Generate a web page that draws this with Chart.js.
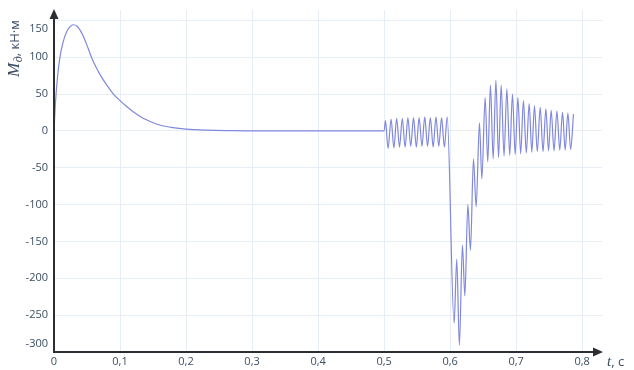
<!DOCTYPE html>
<html>
<head>
<meta charset="utf-8">
<script src="https://cdn.jsdelivr.net/npm/chart.js@4.4.1/dist/chart.umd.min.js"></script>
<style>
  html, body { margin: 0; background: #fff; }
  #wrap { width: 634px; height: 370px; }
</style>
</head>
<body>
<div id="wrap"><canvas id="graf"></canvas></div>
<script>
// === DONNEES ===
// temps, s
const temps = [
  0, 0.002, 0.005, 0.009, 0.014, 0.019, 0.024, 0.029, 0.035, 0.04, 0.045, 0.05,
  0.055, 0.06, 0.07, 0.08, 0.09, 0.1, 0.11, 0.12, 0.13, 0.14, 0.15, 0.16, 0.18,
  0.2, 0.23, 0.27, 0.3, 0.5,
  // oscillations 0,5 - 0,6
  0.502, 0.506, 0.5105, 0.5148, 0.519, 0.5233, 0.5275, 0.5318, 0.536, 0.5403,
  0.5445, 0.5488, 0.553, 0.5573, 0.5615, 0.5658, 0.57, 0.5743, 0.5785, 0.5828,
  0.587, 0.5913, 0.5955,
  // creux profond
  0.606, 0.61, 0.614, 0.6186, 0.6223, 0.6268, 0.6308, 0.6353, 0.6394, 0.6444,
  0.648, 0.653,
  // oscillations amorties
  0.657, 0.661, 0.6652, 0.6693, 0.6733, 0.6773, 0.6816, 0.6859, 0.6902, 0.6944,
  0.6985, 0.7026, 0.7068, 0.711, 0.7153, 0.7197, 0.7237, 0.7277, 0.732, 0.7364,
  0.7407, 0.745, 0.749, 0.753, 0.7573, 0.7617, 0.766, 0.7702, 0.7742, 0.7783,
  0.7825, 0.7868
];
// moment, kN·m
const moment = [
  0, 35, 70, 100, 121, 134, 141, 144, 142, 136, 127, 116,
  104, 93, 76, 62, 50, 41, 33, 26, 20, 15, 11, 8, 4.5,
  2.4, 1, 0.3, 0, 0,
  14, -24, 16, -23, 17, -22, 17, -22, 18, -21,
  18, -22, 18, -21, 19, -21, 18, -22, 19, -21,
  18, -22, 19,
  -261, -174, -291, -155, -224, -100, -162, -38, -103, 11,
  -65, 45,
  -42, 62, -38, 69, -36, 62, -34, 57, -33, 50,
  -32, 45, -31, 41, -30, 37, -29, 34, -28, 32,
  -28, 30, -27, 28, -27, 27, -26, 25, -26, 24,
  -25, 23
];
const ticksX = [0, 0.1, 0.2, 0.3, 0.4, 0.5, 0.6, 0.7, 0.8];
const ticksY = [-300, -250, -200, -150, -100, -50, 0, 50, 100, 150];

const couleurTexte = "#3c4e62";
const couleurAxe = "#2b2f33";
const couleurGrille = "#e6edf4";

// === AXES AVEC FLECHES + LIBELLES ===
const axesFleches = {
  id: "axesFleches",
  afterDraw(chart) {
    const { ctx, chartArea: a, scales } = chart;
    ctx.save();
    // libelles Y
    ctx.fillStyle = couleurTexte;
    ctx.font = "11px 'Open Sans'";
    ctx.textAlign = "right";
    ctx.textBaseline = "middle";
    ticksY.forEach(v => {
      let y = scales.y.getPixelForValue(v);
      y = Math.min(Math.max(y, a.top + 19), a.bottom - 8);
      ctx.fillText(String(v), a.left - 6, y);
    });

    // axes
    ctx.strokeStyle = couleurAxe;
    ctx.fillStyle = couleurAxe;
    ctx.lineWidth = 2;
    ctx.beginPath();
    ctx.moveTo(a.left, a.bottom);
    ctx.lineTo(a.left, a.top + 6);
    ctx.moveTo(a.left - 1, a.bottom);
    ctx.lineTo(a.right - 6, a.bottom);
    ctx.stroke();
    ctx.beginPath();
    ctx.moveTo(a.left, a.top - 1);
    ctx.lineTo(a.left - 4.5, a.top + 9);
    ctx.lineTo(a.left + 4.5, a.top + 9);
    ctx.closePath();
    ctx.fill();
    ctx.beginPath();
    ctx.moveTo(a.right + 1, a.bottom);
    ctx.lineTo(a.right - 9, a.bottom - 4.5);
    ctx.lineTo(a.right - 9, a.bottom + 4.5);
    ctx.closePath();
    ctx.fill();

    // titre Y : M_д, кН·м
    ctx.fillStyle = couleurTexte;
    ctx.translate(19, 77);
    ctx.rotate(-Math.PI / 2);
    ctx.textAlign = "left";
    ctx.textBaseline = "alphabetic";
    let x = 0;
    ctx.font = "italic 17px 'Liberation Serif'";
    ctx.fillText("M", x, 0);
    x += ctx.measureText("M").width + 0.5;
    ctx.font = "italic 12px 'Liberation Serif'";
    ctx.fillText("д", x, 3);
    x += ctx.measureText("д").width;
    ctx.font = "13px 'Open Sans'";
    ctx.fillText(", кН·м", x, 0);
    ctx.setTransform(1, 0, 0, 1, 0, 0);

    // titre X : t, с
    ctx.font = "italic 15px 'Liberation Serif'";
    ctx.fillText("t", 607, 366);
    const wt = ctx.measureText("t").width;
    ctx.font = "13px 'Open Sans'";
    ctx.fillText(", с", 607 + wt, 366);
    ctx.restore();
  }
};

// === GRAPHIQUE ===
const points = temps.map((t, i) => ({ x: t, y: moment[i] }));

new Chart(document.getElementById("graf"), {
  type: "line",
  data: {
    datasets: [{
      data: points,
      borderColor: "#8088dc",
      borderWidth: 1.2,
      pointRadius: 0,
      cubicInterpolationMode: "monotone",
      fill: false
    }]
  },
  options: {
    responsive: true,
    maintainAspectRatio: false,
    animation: false,
    layout: { padding: { top: 10, right: 32, left: 0, bottom: 0 } },
    plugins: { legend: { display: false }, tooltip: { enabled: false } },
    scales: {
      x: {
        type: "linear",
        min: 0,
        max: 0.83,
        afterBuildTicks: s => { s.ticks = ticksX.map(v => ({ value: v })); },
        afterFit: s => { s.height = 18; },
        grid: { color: couleurGrille, drawTicks: false },
        border: { display: false },
        ticks: {
          padding: 3,
          color: couleurTexte,
          font: { family: "'Open Sans'", size: 11 },
          maxRotation: 0,
          callback: v => v === 0 ? "0" : v.toFixed(1).replace(".", ",")
        }
      },
      y: {
        min: -300,
        max: 164,
        afterBuildTicks: s => { s.ticks = ticksY.map(v => ({ value: v })); },
        afterFit: s => { s.width = 54; },
        grid: { color: couleurGrille, drawTicks: false },
        border: { display: false },
        ticks: { display: false }
      }
    }
  },
  plugins: [axesFleches]
});
</script>
</body>
</html>
